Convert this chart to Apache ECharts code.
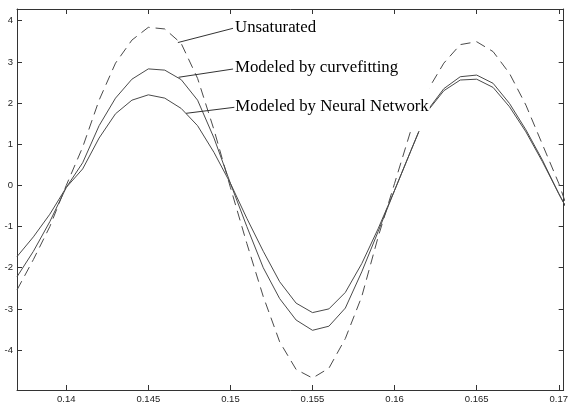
<!DOCTYPE html>
<html>
<head>
<meta charset="utf-8">
<script src="https://cdn.jsdelivr.net/npm/echarts@6/dist/echarts.min.js"></script>
<style>
html,body{margin:0;padding:0;background:#fff;}
#chart{width:571px;height:404px;}
</style>
</head>
<body>
<div id="chart"></div>
<script>
// time samples (s)
const timeValues = [0.137,0.138,0.139,0.140,0.141,0.142,0.143,0.144,0.145,0.146,0.147,0.148,0.149,0.150,0.151,0.152,0.153,0.154,0.155,0.156,0.157,0.158,0.159,0.160,0.161,0.162,0.163,0.164,0.165,0.166,0.167,0.168,0.169,0.170,0.171];
// Unsaturated (dashed)
const unsaturated = [-2.54,-1.8,-1.0,0.0,0.93,2.07,2.97,3.53,3.84,3.80,3.45,2.6,1.35,-0.05,-1.41,-2.7,-3.8,-4.47,-4.68,-4.44,-3.72,-2.7,-1.25,0.05,1.35,2.3,2.97,3.42,3.49,3.25,2.72,1.95,1.0,0.05,-1.1];
// Modeled by curvefitting
const curveFitting = [-2.22,-1.6,-0.88,-0.05,0.55,1.45,2.12,2.58,2.83,2.80,2.57,2.07,1.15,0.05,-1.0,-2.0,-2.75,-3.27,-3.52,-3.42,-2.98,-2.1,-1.12,-0.12,0.85,1.82,2.35,2.64,2.68,2.48,1.99,1.35,0.62,-0.2,-0.95];
// Modeled by Neural Network
const neuralNet = [-1.73,-1.25,-0.7,-0.05,0.4,1.15,1.74,2.07,2.20,2.12,1.87,1.45,0.8,0.05,-0.8,-1.6,-2.34,-2.86,-3.09,-3.0,-2.6,-1.9,-1.05,-0.12,0.85,1.8,2.3,2.56,2.58,2.38,1.91,1.3,0.58,-0.2,-0.95];

const xTicks = [0.14,0.145,0.15,0.155,0.16,0.165,0.17];
const yTicks = [-4,-3,-2,-1,0,1,2,3,4];

const seriesNames = ['Unsaturated','Modeled by curvefitting','Modeled by Neural Network'];
// annotation leader anchors in data coordinates [from(on curve), to(text start)]
const leaderFrom = [[0.1468,3.47],[0.14684,2.626],[0.1473,1.751]];
const leaderTo = [[0.15016,3.816],[0.15016,2.827],[0.15024,1.897]];

const pair = ys => timeValues.map((t,i)=>[t,ys[i]]);
const axisColor = '#333';
const lineColor = '#4a4a4a';

const chart = echarts.init(document.getElementById('chart'), null, {renderer:'canvas'});
const fmt = v => String(parseFloat(Number(v).toFixed(4)));

const xBase = {
  type:'value', min:0.137, max:0.1703,
  axisLine:{show:true, onZero:false, lineStyle:{color:axisColor, width:1}},
  axisTick:{show:true, inside:true, length:5, customValues:xTicks, lineStyle:{color:axisColor}},
  splitLine:{show:false}
};
const yBase = {
  type:'value', min:-4.97, max:4.285,
  axisLine:{show:true, onZero:false, lineStyle:{color:axisColor, width:1}},
  axisTick:{show:true, inside:true, length:5, customValues:yTicks, lineStyle:{color:axisColor}},
  splitLine:{show:false}
};

chart.setOption({
  animation:false,
  backgroundColor:'#fff',
  grid:{left:17, right:-1, top:9, bottom:14, containLabel:false},
  xAxis:[
    Object.assign({}, xBase, {position:'bottom',
      axisLabel:{show:true, customValues:xTicks, formatter:fmt, margin:4, color:'#222', fontSize:9.5, fontFamily:'"Liberation Sans", Arial, sans-serif', hideOverlap:false}}),
    Object.assign({}, xBase, {position:'top', axisLabel:{show:false}})
  ],
  yAxis:[
    Object.assign({}, yBase, {position:'left',
      axisLabel:{show:true, customValues:yTicks, formatter:fmt, margin:4, color:'#222', fontSize:9.5, fontFamily:'"Liberation Sans", Arial, sans-serif'}}),
    Object.assign({}, yBase, {position:'right', axisLabel:{show:false}})
  ],
  series:[
    {name:seriesNames[0], type:'line', data:pair(unsaturated), showSymbol:false, symbol:'none', clip:true,
     lineStyle:{color:lineColor, width:1, type:[10,6]}},
    {name:seriesNames[1], type:'line', data:pair(curveFitting), showSymbol:false, symbol:'none', clip:true,
     lineStyle:{color:lineColor, width:1}},
    {name:seriesNames[2], type:'line', data:pair(neuralNet), showSymbol:false, symbol:'none', clip:true,
     lineStyle:{color:lineColor, width:1}}
  ]
});

const elements = [];
seriesNames.forEach((name,i)=>{
  const a = chart.convertToPixel({gridIndex:0}, leaderFrom[i]);
  const b = chart.convertToPixel({gridIndex:0}, leaderTo[i]);
  const isLast = i === 2;
  elements.push({
    type:'text', z:100, x: isLast ? b[0]-2 : b[0]+2, y:b[1]-1,
    style:{text:name, fill:'#000', font:'16.8px "Liberation Serif", "Times New Roman", serif',
      align:'left', verticalAlign:'middle',
      backgroundColor: isLast ? '#fff' : null,
      padding: isLast ? [8,1,25,3] : 0}
  });
  elements.push({
    type:'line', z:101,
    shape:{x1:a[0], y1:a[1], x2:b[0], y2:b[1]},
    style:{stroke:'#333', lineWidth:1}
  });
});
chart.setOption({graphic:{elements}});
</script>
</body>
</html>
